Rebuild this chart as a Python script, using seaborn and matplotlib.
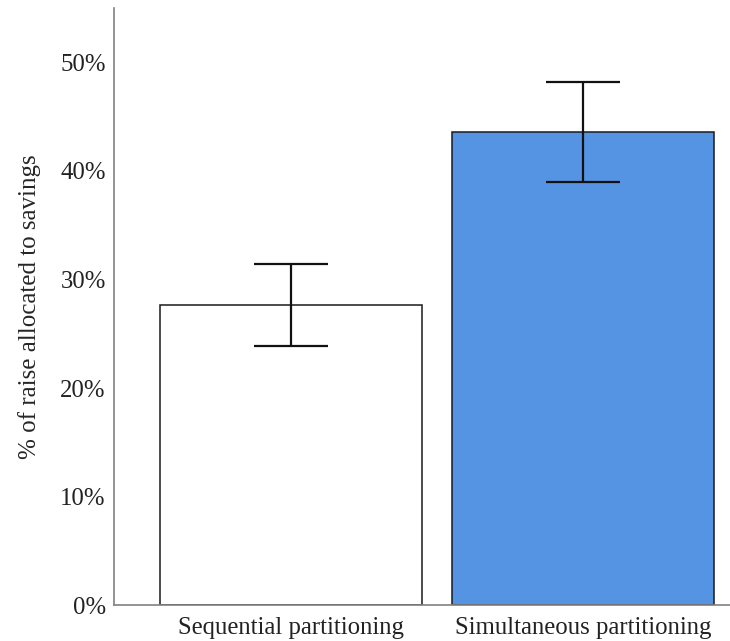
import matplotlib
matplotlib.use("Agg")
import matplotlib.pyplot as plt
import seaborn as sns
import pandas as pd
import numpy as np
from matplotlib.ticker import FuncFormatter

# Share of a raise allocated to savings, by partitioning condition
conditions = ["Sequential partitioning", "Simultaneous partitioning"]
means = [27.7, 43.6]
ci_low = [23.9, 39.0]
ci_high = [31.4, 48.2]
yticks = [0, 10, 20, 30, 40, 50]

df = pd.DataFrame({"condition": conditions, "pct": means})

sns.set_theme(style="white")
plt.rcParams["font.family"] = ["Liberation Serif", "DejaVu Serif"]

fig = plt.figure(figsize=(7.30, 6.41), dpi=100)
ax = fig.add_axes([0.1562, 0.0554, 0.8438, 0.9321])

sns.barplot(data=df, x="condition", y="pct", hue="condition",
            palette=["#ffffff", "#5494e3"], saturation=1, width=0.897,
            errorbar=None, edgecolor="#1a1a1a", linewidth=1.1,
            legend=False, ax=ax)

x = np.arange(len(conditions))
m = np.array(means)
ax.errorbar(x, m, yerr=[m - np.array(ci_low), np.array(ci_high) - m],
            fmt="none", ecolor="#111111", elinewidth=1.6, capsize=26.3,
            capthick=1.6, zorder=5)

ax.set_xlim(-0.606, 1.503)
ax.set_ylim(0, 55)
ax.set_yticks(yticks)
ax.yaxis.set_major_formatter(FuncFormatter(lambda v, p: f"{v:.0f}%"))
ax.set_xlabel("")
ax.set_ylabel("% of raise allocated to savings", fontsize=18, labelpad=14)
ax.tick_params(axis="both", length=0, labelsize=17.8, colors="#222222")
ax.tick_params(axis="y", pad=6)
ax.tick_params(axis="x", pad=8)

for side in ["top", "right"]:
    ax.spines[side].set_visible(False)
for side in ["left", "bottom"]:
    ax.spines[side].set_color("#808080")
    ax.spines[side].set_linewidth(1.2)

fig.savefig("out.png", dpi=100)
